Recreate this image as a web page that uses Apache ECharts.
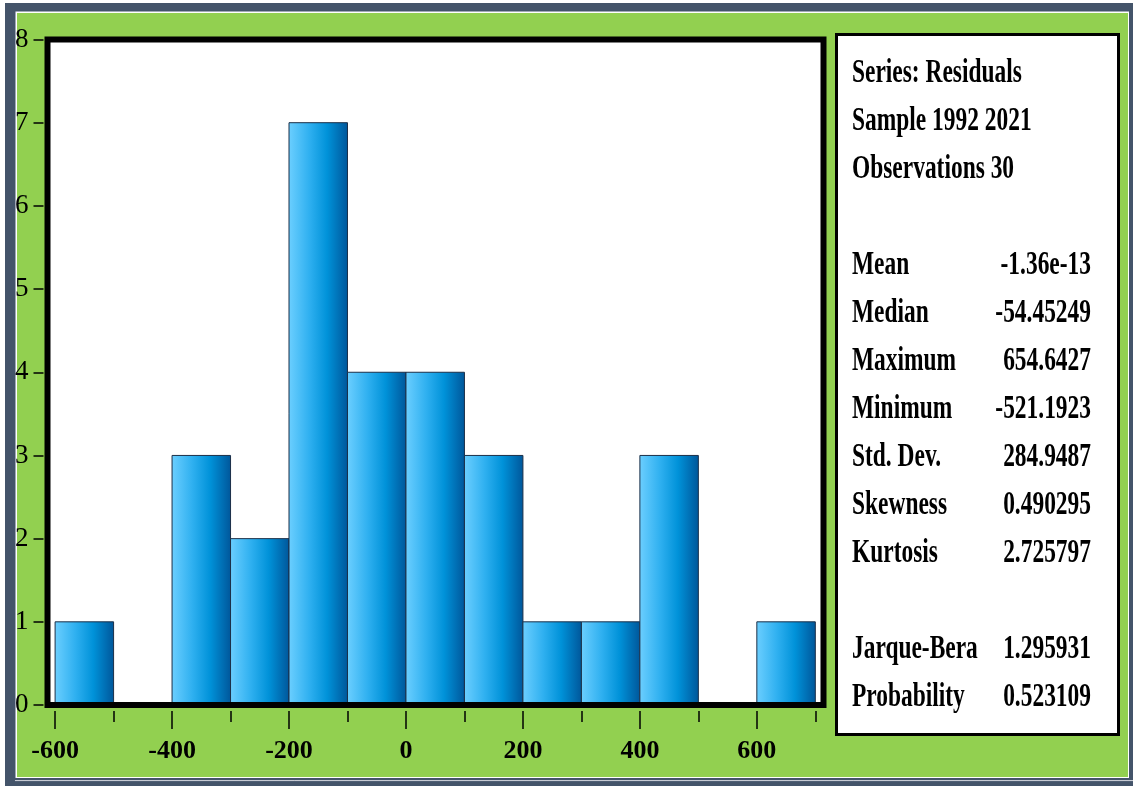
<!DOCTYPE html>
<html><head><meta charset="utf-8">
<script src="https://cdn.jsdelivr.net/npm/echarts@6/dist/echarts.min.js"></script>
<style>html,body{margin:0;padding:0;background:#fff;}#c{width:1133px;height:786px;}</style>
</head><body><div id="c"></div>
<script>
// ---- data ----
const binStarts = [-600, -500, -400, -300, -200, -100, 0, 100, 200, 300, 400, 500, 600];
const binWidth = 100;
const counts = [1, 0, 3, 2, 7, 4, 4, 3, 1, 1, 3, 0, 1];
const yMin = 0, yMax = 8, yStep = 1;
const xMin = -613, xMax = 714;
const xMajorTicks = [-600, -400, -200, 0, 200, 400, 600];
const xMinorTicks = [-500, -300, -100, 100, 300, 500, 700];
const headerLines = ['Series: Residuals', 'Sample 1992 2021', 'Observations 30'];
const statLabels = ['Mean', 'Median', 'Maximum', 'Minimum', 'Std. Dev.', 'Skewness', 'Kurtosis', 'Jarque-Bera', 'Probability'];
const statValues = ['-1.36e-13', '-54.45249', '654.6427', '-521.1923', '284.9487', '0.490295', '2.725797', '1.295931', '0.523109'];
const statRows = [4, 5, 6, 7, 8, 9, 10, 12, 13];

// ---- layout ----
const G = {left: 47.5, top: 39.5, width: 776, height: 665.5};
const FONT = 'Liberation Serif, Times New Roman, serif';
const panelFont = {fontFamily: FONT, fontWeight: 'bold', fontSize: 33, fill: '#000'};
const lineY = k => 73 + 48 * k;
const SX = 0.71;

const chart = echarts.init(document.getElementById('c'), null, {renderer: 'canvas'});

const barFill = new echarts.graphic.LinearGradient(0, 0, 1, 0, [
  {offset: 0, color: '#6ccfff'},
  {offset: 0.35, color: '#2fb0f0'},
  {offset: 0.65, color: '#0092d9'},
  {offset: 1, color: '#00569a'}
]);

const graphics = [
  {type: 'rect', z: -10, shape: {x: 5, y: 3, width: 1128, height: 783}, style: {fill: '#44546a'}},
  {type: 'rect', z: -9, shape: {x: 15.5, y: 11.5, width: 1113.5, height: 766.5}, style: {fill: '#ffffff'}},
  {type: 'rect', z: -8, shape: {x: 17, y: 13, width: 1111, height: 764}, style: {fill: '#92d050'}},
  {type: 'rect', z: -9, shape: {x: 15, y: 780.5, width: 1118, height: 0.1}, style: {fill: 'none', stroke: '#c8ccd4', lineWidth: 1}},
  {type: 'rect', z: 100, silent: true, shape: {x: G.left, y: G.top, width: G.width, height: G.height},
    style: {fill: 'none', stroke: '#000', lineWidth: 6}},
  {type: 'rect', z: 50, shape: {x: 836.5, y: 34.5, width: 282, height: 700}, style: {fill: '#fff', stroke: '#000', lineWidth: 3}}
];
headerLines.forEach((t, k) => {
  graphics.push({type: 'text', z: 60, x: 852, y: lineY(k), scaleX: SX,
    style: Object.assign({text: t, x: 0, y: 0, align: 'left', verticalAlign: 'middle'}, panelFont)});
});
statLabels.forEach((t, i) => {
  graphics.push({type: 'text', z: 60, x: 852, y: lineY(statRows[i]), scaleX: SX,
    style: Object.assign({text: t, x: 0, y: 0, align: 'left', verticalAlign: 'middle'}, panelFont)});
  graphics.push({type: 'text', z: 60, x: 1091, y: lineY(statRows[i]), scaleX: SX,
    style: Object.assign({text: statValues[i], x: 0, y: 0, align: 'right', verticalAlign: 'middle'}, panelFont)});
});

const option = {
  animation: false,
  backgroundColor: 'transparent',
  graphic: {elements: graphics},
  grid: {left: G.left, top: G.top, width: G.width, height: G.height, show: true,
    backgroundColor: '#fff', borderWidth: 0, containLabel: false},
  xAxis: [
    {type: 'value', position: 'bottom', min: xMin, max: xMax, offset: 6,
      axisLine: {show: false, onZero: false}, splitLine: {show: false},
      axisTick: {show: true, length: 18, customValues: xMajorTicks, lineStyle: {color: '#000', width: 1.5}},
      axisLabel: {show: true, customValues: xMajorTicks, margin: 27, color: '#000',
        fontFamily: FONT, fontWeight: 'bold', fontSize: 26}},
    {type: 'value', position: 'bottom', min: xMin, max: xMax, offset: 6,
      axisLine: {show: false, onZero: false}, splitLine: {show: false},
      axisTick: {show: true, length: 11, customValues: xMinorTicks, lineStyle: {color: '#000', width: 1.5}},
      axisLabel: {show: false}}
  ],
  yAxis: {type: 'value', position: 'left', min: yMin, max: yMax, interval: yStep, offset: 4,
    axisLine: {show: false, onZero: false}, splitLine: {show: false},
    axisTick: {show: true, length: 10, lineStyle: {color: '#000', width: 1.5}},
    axisLabel: {margin: 15, color: '#000', fontFamily: FONT, fontSize: 27}},
  series: [{
    type: 'custom',
    xAxisIndex: 0, yAxisIndex: 0,
    encode: {x: [0, 1], y: 2},
    data: binStarts.map((s, i) => [s, s + binWidth, counts[i]]),
    renderItem: function (params, api) {
      const c = api.value(2);
      if (!c) return null;
      const p0 = api.coord([api.value(0), 0]);
      const p1 = api.coord([api.value(1), c]);
      return {type: 'rect',
        shape: {x: p0[0], y: p1[1], width: p1[0] - p0[0], height: p0[1] - p1[1]},
        style: {fill: barFill, stroke: '#1b2f48', lineWidth: 1}};
    }
  }]
};
chart.setOption(option);
</script></body></html>
